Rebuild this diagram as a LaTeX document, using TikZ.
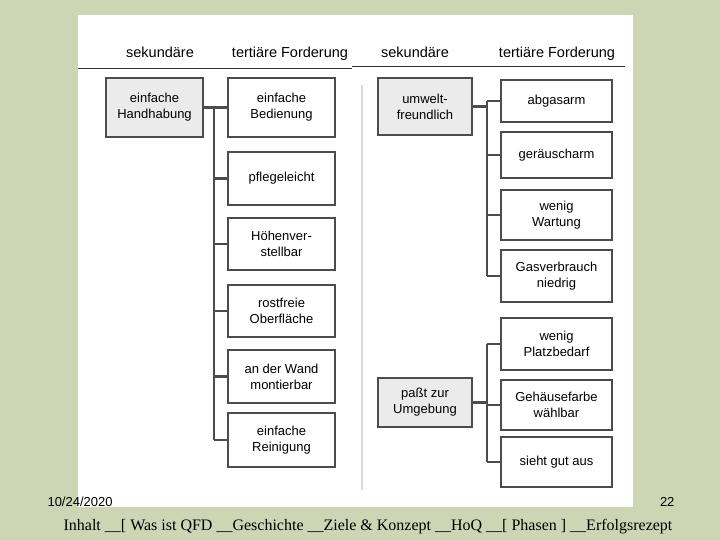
\documentclass[tikz,border=0pt]{standalone}
\usepackage{fontspec}
\setmainfont{Liberation Sans}
\newfontfamily\serifx{Liberation Serif}
\begin{document}
\begin{tikzpicture}[x=1pt,y=-1pt,
 box/.style={draw=black!70,line width=1.6pt,fill=white,align=center,font=\fontsize{13}{16}\selectfont,inner sep=0pt},
 sec/.style={box,fill=black!8},
 con/.style={draw=black!70,line width=2.4pt},
 hdr/.style={font=\fontsize{14.5}{16}\selectfont,anchor=base}]
\useasboundingbox (0,0) rectangle (720,540);
\fill[fill={rgb,255:red,205;green,213;blue,181}] (0,0) rectangle (720,540);
\fill[white] (78,15) rectangle (633,507);
% headers
\node[hdr] (h1) at (160,58) {sekundäre};
\node[hdr] (h2) at (290,58) {tertiäre Forderung};
\node[hdr] (h3) at (415,58) {sekundäre};
\node[hdr] (h4) at (557,58) {tertiäre Forderung};
\draw[black!80,line width=0.8pt] (78,68) -- (352,68);
\draw[black!80,line width=0.8pt] (352,66) -- (625,66);
\draw[black!15,line width=2pt] (362,85) -- (362,490);
% left
\node[sec,minimum width=97,minimum height=59] (s1) at (154.5,107.5) {einfache\\Handhabung};
\node[box,minimum width=107,minimum height=59] (a1) at (281.5,107.5) {einfache\\Bedienung};
\node[box,minimum width=107,minimum height=53] (a2) at (281.5,178.5) {pflegeleicht};
\node[box,minimum width=107,minimum height=52] (a3) at (281.5,244) {Höhenver-\\stellbar};
\node[box,minimum width=107,minimum height=52] (a4) at (281.5,311) {rostfreie\\Oberfläche};
\node[box,minimum width=107,minimum height=53] (a5) at (281.5,376.5) {an der Wand\\montierbar};
\node[box,minimum width=107,minimum height=54] (a6) at (281.5,440) {einfache\\Reinigung};
\coordinate (j1) at (214,107.5);
\coordinate (j1e) at (214,440);
\draw[con] (s1.east) -- (a1.west);
\draw[con] (j1) -- (j1e);
\foreach \n in {a2,a3,a4,a5,a6} \draw[con] (\n.west) -- (\n.west -| j1);
% right top
\node[sec,minimum width=94,minimum height=57] (s2) at (425,106.5) {umwelt-\\freundlich};
\node[box,minimum width=111,minimum height=42] (b1) at (556.5,101) {abgasarm};
\node[box,minimum width=111,minimum height=46] (b2) at (556.5,155) {geräuscharm};
\node[box,minimum width=111,minimum height=50] (b3) at (556.5,215) {wenig\\Wartung};
\node[box,minimum width=111,minimum height=52] (b4) at (556.5,276) {Gasverbrauch\\niedrig};
\coordinate (j2) at (487,101);
\coordinate (j2e) at (487,276);
\draw[con] (s2.east) -- (s2.east -| j2);
\draw[con] (j2) -- (j2e);
\foreach \n in {b1,b2,b3,b4} \draw[con] (\n.west) -- (\n.west -| j2);
% right bottom
\node[sec,minimum width=94,minimum height=49] (s3) at (425,402.5) {paßt zur\\Umgebung};
\node[box,minimum width=111,minimum height=52] (c1) at (556.5,344) {wenig\\Platzbedarf};
\node[box,minimum width=111,minimum height=50] (c2) at (556.5,405) {Gehäusefarbe\\wählbar};
\node[box,minimum width=111,minimum height=50] (c3) at (556.5,462) {sieht gut aus};
\coordinate (j3) at (487,344);
\coordinate (j3e) at (487,462);
\draw[con] (s3.east) -- (s3.east -| j3);
\draw[con] (j3) -- (j3e);
\foreach \n in {c1,c2,c3} \draw[con] (\n.west) -- (\n.west -| j3);
% footer
\node[anchor=west,font=\fontsize{13}{15}\selectfont] (d) at (44,502) {10/24/2020};
\node[anchor=east,font=\fontsize{13}{15}\selectfont] (p) at (678,502) {22};
\node[font=\serifx\fontsize{16}{18}\selectfont] (f) at (368,527) {Inhalt \_\_[ Was ist QFD \_\_Geschichte \_\_Ziele \& Konzept \_\_HoQ \_\_[ Phasen ] \_\_Erfolgsrezept};
\end{tikzpicture}
\end{document}
